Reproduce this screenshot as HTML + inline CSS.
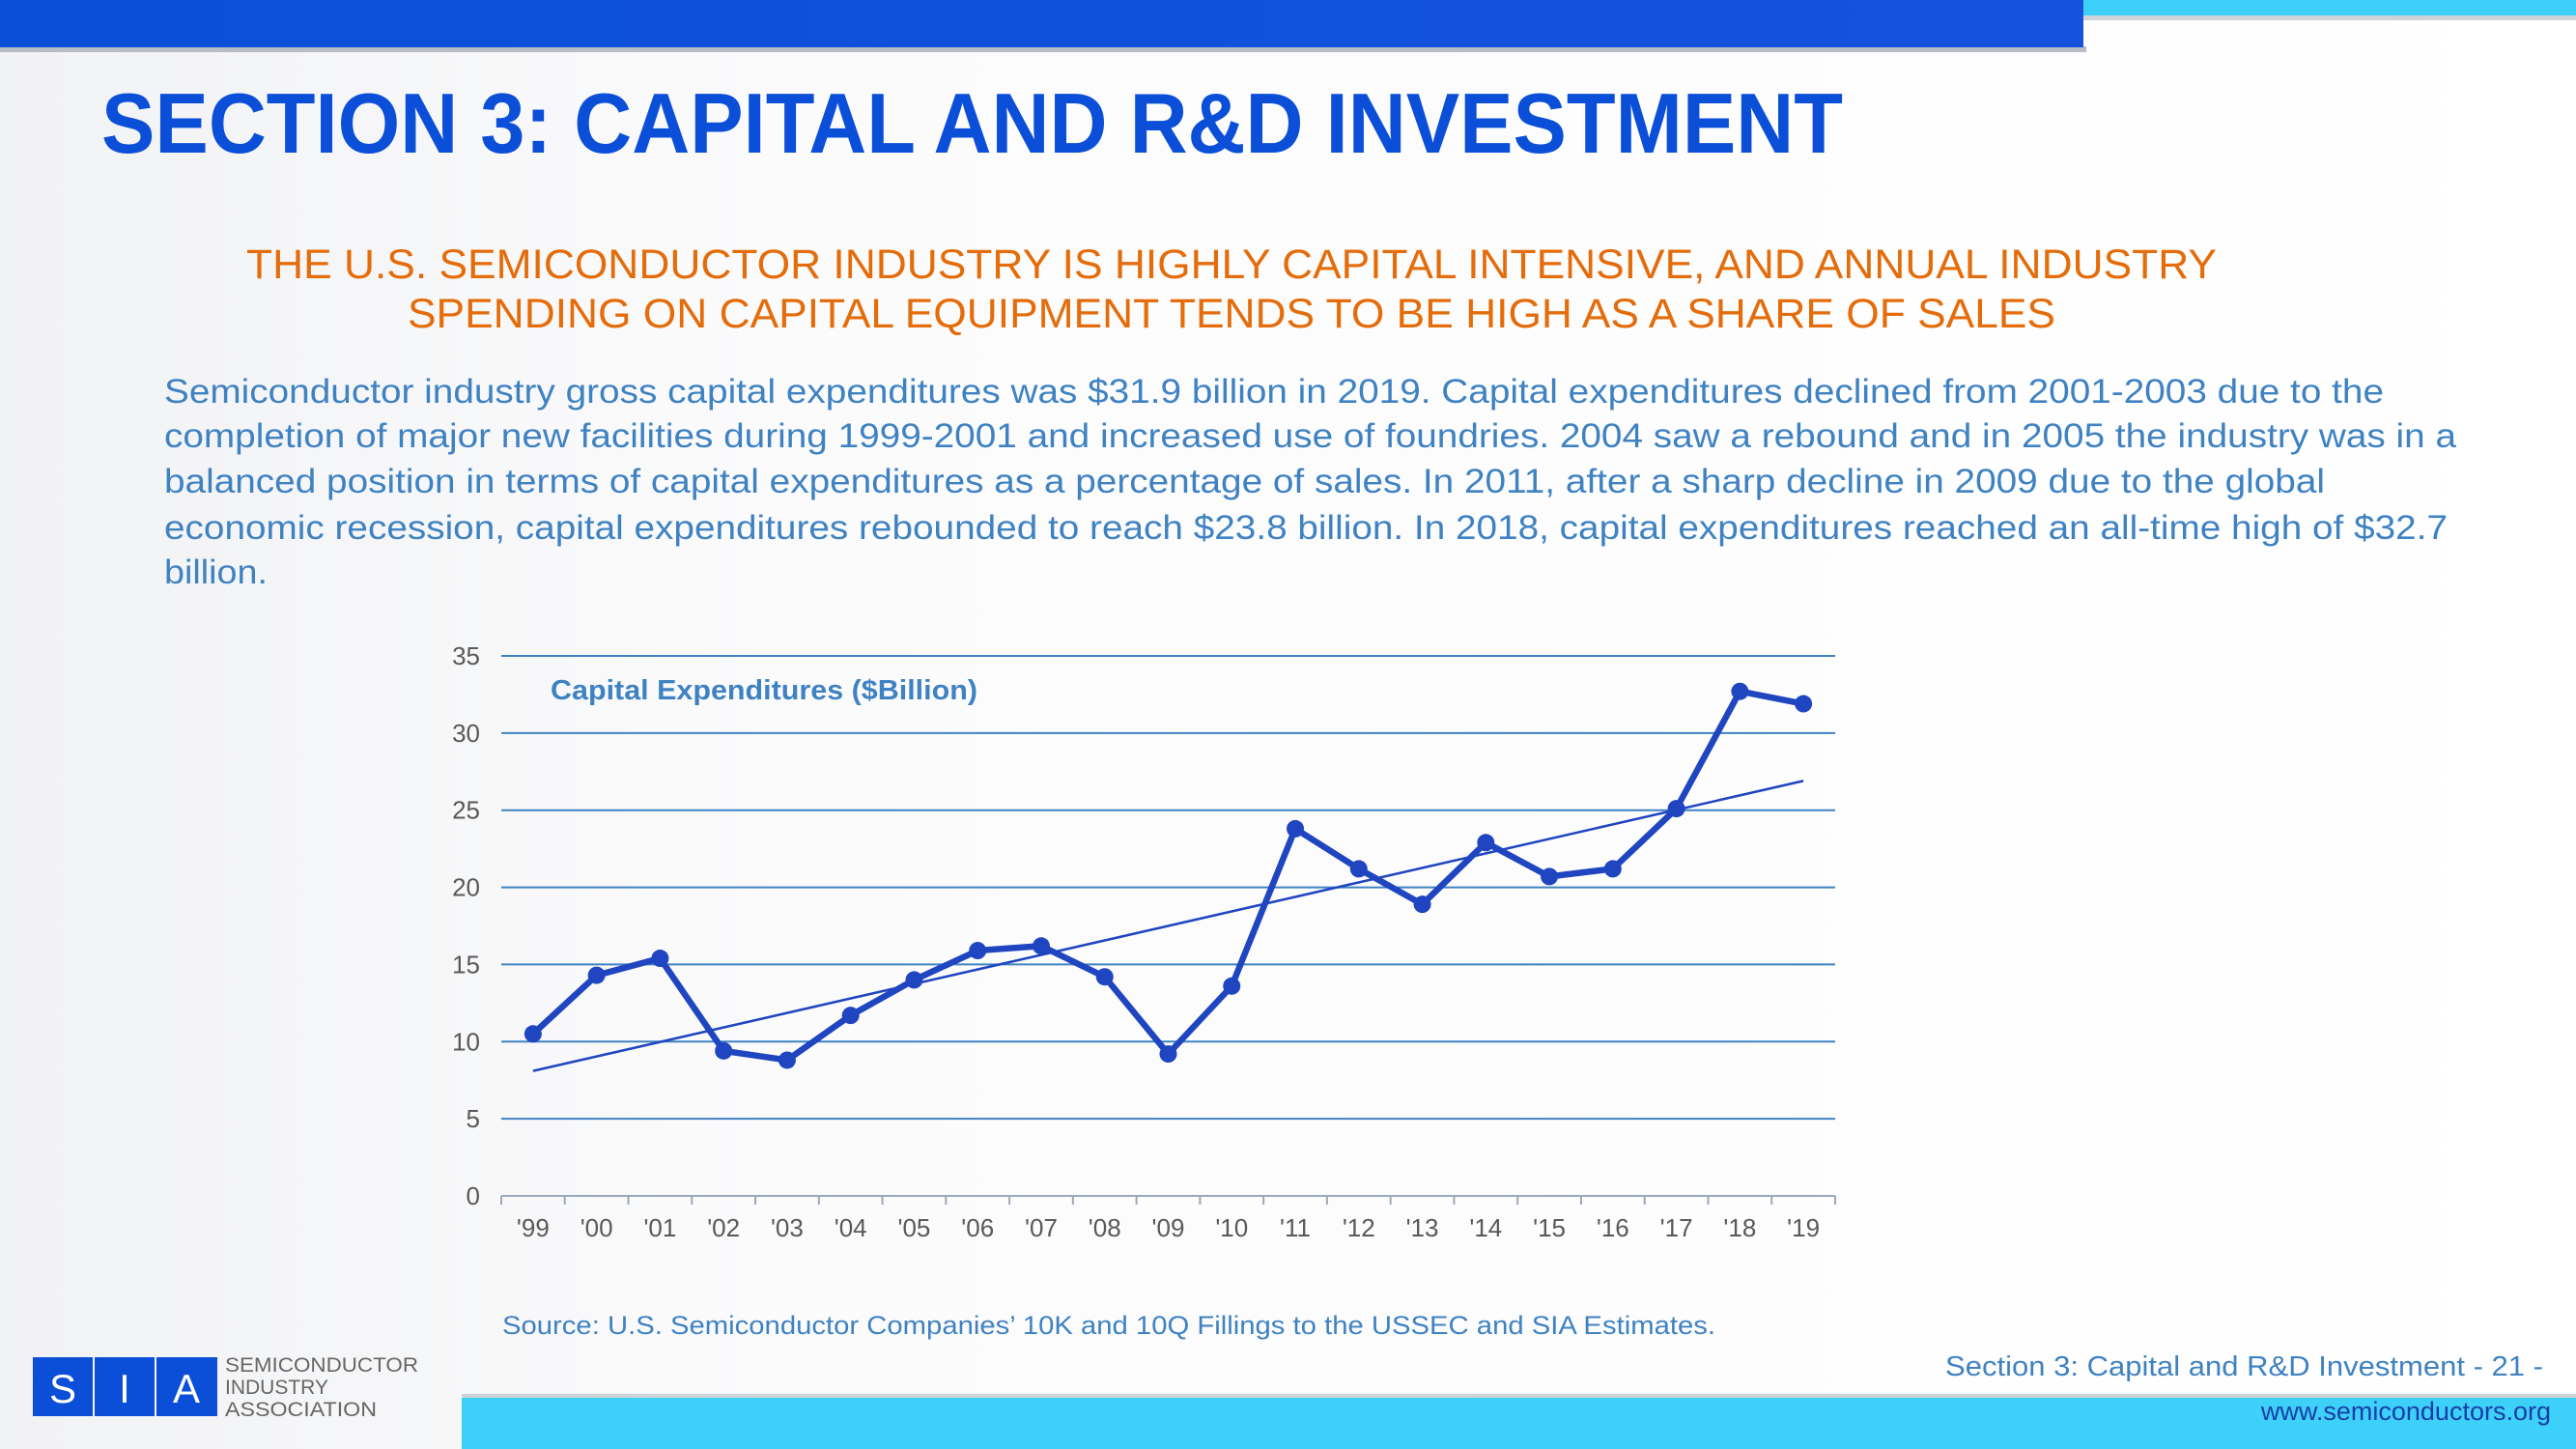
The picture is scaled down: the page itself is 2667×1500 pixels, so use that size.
<!DOCTYPE html>
<html><head><meta charset="utf-8"><style>
html,body{margin:0;padding:0;background:#fff}
svg{display:block}
text{font-family:"Liberation Sans",Arial,sans-serif}
</style></head><body>
<svg id="page" width="2667" height="1500" viewBox="0 0 2667 1500" xmlns="http://www.w3.org/2000/svg">
<defs>
<linearGradient id="bgL" x1="0" x2="1" y1="0" y2="0"><stop offset="0" stop-color="#f1f2f4"/><stop offset="0.3" stop-color="#fbfbfc"/><stop offset="1" stop-color="#ffffff"/></linearGradient>
<linearGradient id="topBar" x1="0" x2="1"><stop offset="0" stop-color="#0a4fd8"/><stop offset="1" stop-color="#1553dc"/></linearGradient>
</defs>
<rect width="2667" height="1500" fill="url(#bgL)"/>
<rect x="0" y="48" width="2160" height="6" fill="#b8bcc4"/>
<rect x="2157" y="0" width="510" height="16" fill="#3dd0f8"/>
<rect x="2157" y="16" width="510" height="5" fill="#cfd3d8"/>
<rect x="0" y="0" width="2157" height="49" fill="url(#topBar)"/>

<text x="105" y="158" font-size="88" font-weight="bold" fill="#0b4fd8" textLength="1803" lengthAdjust="spacingAndGlyphs">SECTION 3: CAPITAL AND R&amp;D INVESTMENT</text>

<text x="255" y="288" font-size="43" fill="#e46c0a" textLength="2040" lengthAdjust="spacingAndGlyphs">THE U.S. SEMICONDUCTOR INDUSTRY IS HIGHLY CAPITAL INTENSIVE, AND ANNUAL INDUSTRY</text>
<text x="422" y="339" font-size="43" fill="#e46c0a" textLength="1706" lengthAdjust="spacingAndGlyphs">SPENDING ON CAPITAL EQUIPMENT TENDS TO BE HIGH AS A SHARE OF SALES</text>

<g fill="#3f82c2" font-size="35">
<text x="170" y="417" textLength="2298" lengthAdjust="spacingAndGlyphs">Semiconductor industry gross capital expenditures was $31.9 billion in 2019. Capital expenditures declined from 2001-2003 due to the</text>
<text x="170" y="463" textLength="2373" lengthAdjust="spacingAndGlyphs">completion of major new facilities during 1999-2001 and increased use of foundries. 2004 saw a rebound and in 2005 the industry was in a</text>
<text x="170" y="510" textLength="2237" lengthAdjust="spacingAndGlyphs">balanced position in terms of capital expenditures as a percentage of sales. In 2011, after a sharp decline in 2009 due to the global</text>
<text x="170" y="558" textLength="2364" lengthAdjust="spacingAndGlyphs">economic recession, capital expenditures rebounded to reach $23.8 billion. In 2018, capital expenditures reached an all-time high of $32.7</text>
<text x="170" y="604" textLength="107" lengthAdjust="spacingAndGlyphs">billion.</text>
</g>

<g id="chart"></g>

<text x="520" y="1381" font-size="27" fill="#3f82c2" textLength="1256" lengthAdjust="spacingAndGlyphs">Source: U.S. Semiconductor Companies’ 10K and 10Q Fillings to the USSEC and SIA Estimates.</text>

<g>
<rect x="34" y="1405" width="62" height="61" fill="#0b4fd8"/>
<rect x="98" y="1405" width="62" height="61" fill="#0b4fd8"/>
<rect x="162" y="1405" width="63" height="61" fill="#0b4fd8"/>
<text x="65" y="1452" font-size="42" fill="#fff" text-anchor="middle">S</text>
<text x="129" y="1452" font-size="42" fill="#fff" text-anchor="middle">I</text>
<text x="193" y="1452" font-size="42" fill="#fff" text-anchor="middle">A</text>
<text x="233" y="1420" font-size="21" fill="#666" textLength="200" lengthAdjust="spacingAndGlyphs">SEMICONDUCTOR</text>
<text x="233" y="1443" font-size="21" fill="#666">INDUSTRY</text>
<text x="233" y="1466" font-size="21" fill="#666" textLength="157" lengthAdjust="spacingAndGlyphs">ASSOCIATION</text>
</g>
<rect x="478" y="1446" width="2189" height="54" fill="#3dd0f8"/>
<rect x="478" y="1443" width="2189" height="4" fill="#cfd3d8"/>
<text x="2014" y="1424" font-size="29" fill="#3f82c2" textLength="619" lengthAdjust="spacingAndGlyphs">Section 3: Capital and R&amp;D Investment  - 21 -</text>
<text x="2641" y="1470" font-size="27" fill="#1a3ea8" text-anchor="end">www.semiconductors.org</text>
</svg>
<script>
const categories = ["'99","'00","'01","'02","'03","'04","'05","'06","'07","'08","'09","'10","'11","'12","'13","'14","'15","'16","'17","'18","'19"];
const capex = [10.5,14.3,15.4,9.4,8.8,11.7,14.0,15.9,16.2,14.2,9.2,13.6,23.8,21.2,18.9,22.9,20.7,21.2,25.1,32.7,31.9];
const yTicks = [0,5,10,15,20,25,30,35];
const trendEnds = [8.1,26.9];

const NS='http://www.w3.org/2000/svg';
const g=document.getElementById('chart');
const X0=519,X1=1900,Y0=1238,Y1=679,YMAX=35;
const band=(X1-X0)/categories.length;
const xc=i=>X0+band*(i+0.5);
const y=v=>Y0-(v/YMAX)*(Y0-Y1);
function mk(tag,attrs){const e=document.createElementNS(NS,tag);for(const k in attrs)e.setAttribute(k,attrs[k]);g.appendChild(e);return e;}

yTicks.forEach(t=>{
  if(t>0){const l=mk('line',{x1:X0,x2:X1,y1:y(t),y2:y(t),stroke:'#3f82c2','stroke-width':2});
  
  }
  const tx=mk('text',{x:497,y:y(t)+9,'font-size':26,fill:'#595959','text-anchor':'end'});
  tx.textContent=t;
  
  
});
const ax=mk('line',{x1:X0,x2:X1,y1:Y0,y2:Y0,stroke:'#9aa9bd','stroke-width':2});


for(let i=0;i<=categories.length;i++){
  const tk=mk('line',{x1:X0+band*i,x2:X0+band*i,y1:Y0,y2:Y0+9,stroke:'#9aa9bd','stroke-width':2});
  
  
}
categories.forEach((c,i)=>{
  const t=mk('text',{x:xc(i),y:1280,'font-size':26,fill:'#595959','text-anchor':'middle'});
  t.textContent=c;
  
  
});
const tr=mk('line',{x1:xc(0),y1:y(trendEnds[0]),x2:xc(categories.length-1),y2:y(trendEnds[1]),stroke:'#1f45c0','stroke-width':2.5});


const pl=mk('polyline',{points:capex.map((v,i)=>xc(i)+','+y(v)).join(' '),fill:'none',stroke:'#1f45c0','stroke-width':6.5,'stroke-linejoin':'round'});


capex.forEach((v,i)=>{
  const c=mk('circle',{cx:xc(i),cy:y(v),r:9,fill:'#1f45c0'});
  
  
});
const ct=mk('text',{x:570,y:724,'font-size':29,'font-weight':'bold',fill:'#3f82c2',textLength:442,lengthAdjust:'spacingAndGlyphs'});
ct.textContent='Capital Expenditures ($Billion)';


</script>
</body></html>
